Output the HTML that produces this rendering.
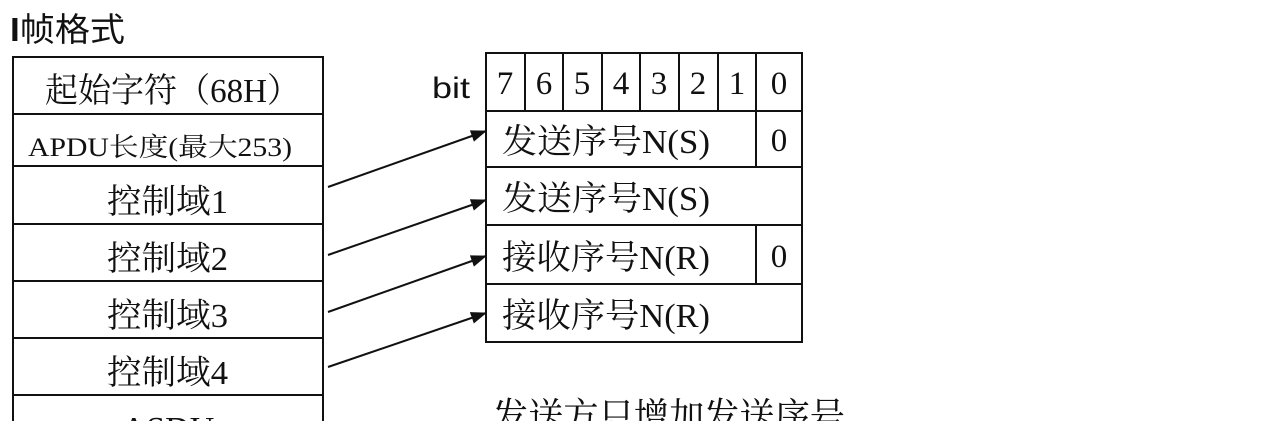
<!DOCTYPE html>
<html><head><meta charset="utf-8"><style>
html,body{margin:0;padding:0;background:#fff;width:1280px;height:421px;overflow:hidden}
svg{display:block}
svg text{font-family:"Liberation Serif","Noto Serif CJK SC",serif;fill:#111}
</style></head><body>
<svg width="1280" height="421" viewBox="0 0 1280 421" xmlns="http://www.w3.org/2000/svg" style="overflow:hidden">
<defs><marker id="a" markerWidth="16" markerHeight="12" refX="15" refY="6" orient="auto" markerUnits="userSpaceOnUse"><path d="M0,0 L16,6 L0,12 Z" fill="#111"/></marker></defs>
<text x="10" y="41" font-size="33" textLength="115" lengthAdjust="spacingAndGlyphs" style="font-family:'Liberation Sans','Noto Sans CJK SC',sans-serif;font-weight:bold">I<tspan font-weight="normal">帧格式</tspan></text>
<g stroke="#111" stroke-width="2" fill="none">
<rect x="13" y="57" width="310" height="380"/>
<line x1="13" y1="114" x2="323" y2="114"/><line x1="13" y1="166" x2="323" y2="166"/>
<line x1="13" y1="224" x2="323" y2="224"/><line x1="13" y1="281" x2="323" y2="281"/>
<line x1="13" y1="338" x2="323" y2="338"/><line x1="13" y1="395" x2="323" y2="395"/>
<rect x="486" y="53" width="316" height="289"/>
<line x1="486" y1="111" x2="802" y2="111"/><line x1="486" y1="167" x2="802" y2="167"/>
<line x1="486" y1="225" x2="802" y2="225"/><line x1="486" y1="284" x2="802" y2="284"/>
<line x1="525" y1="53" x2="525" y2="111"/><line x1="563" y1="53" x2="563" y2="111"/>
<line x1="602" y1="53" x2="602" y2="111"/><line x1="640" y1="53" x2="640" y2="111"/>
<line x1="679" y1="53" x2="679" y2="111"/><line x1="718" y1="53" x2="718" y2="111"/>
<line x1="756" y1="53" x2="756" y2="167"/><line x1="756" y1="225" x2="756" y2="284"/>
</g>
<g stroke="#111" stroke-width="2" marker-end="url(#a)">
<line x1="328" y1="187" x2="486" y2="131"/><line x1="328" y1="255" x2="486" y2="200"/>
<line x1="328" y1="312" x2="486" y2="256"/><line x1="328" y1="367" x2="486" y2="313"/>
</g>
<text x="45" y="102" font-size="34" textLength="255" lengthAdjust="spacingAndGlyphs">起始字符（68H）</text>
<text x="28" y="156" font-size="26" textLength="264" lengthAdjust="spacingAndGlyphs">APDU长度(最大253)</text>
<text x="107" y="213" font-size="34" textLength="121" lengthAdjust="spacingAndGlyphs">控制域1</text>
<text x="107" y="270" font-size="34" textLength="121" lengthAdjust="spacingAndGlyphs">控制域2</text>
<text x="107" y="327" font-size="34" textLength="121" lengthAdjust="spacingAndGlyphs">控制域3</text>
<text x="107" y="384" font-size="34" textLength="121" lengthAdjust="spacingAndGlyphs">控制域4</text>
<text x="168" y="440" font-size="34" text-anchor="middle">ASDU</text>
<text x="432" y="98" font-size="30" textLength="38" lengthAdjust="spacingAndGlyphs" style="font-family:'Liberation Sans',sans-serif">bit</text>
<g font-size="33" text-anchor="middle">
<text x="505" y="94">7</text><text x="544" y="94">6</text><text x="582" y="94">5</text><text x="621" y="94">4</text>
<text x="659" y="94">3</text><text x="698" y="94">2</text><text x="737" y="94">1</text><text x="779" y="94">0</text>
<text x="779" y="151">0</text><text x="779" y="267">0</text>
</g>
<text x="502" y="153" font-size="34" textLength="208" lengthAdjust="spacingAndGlyphs">发送序号N(S)</text>
<text x="502" y="210" font-size="34" textLength="208" lengthAdjust="spacingAndGlyphs">发送序号N(S)</text>
<text x="502" y="269" font-size="34" textLength="208" lengthAdjust="spacingAndGlyphs">接收序号N(R)</text>
<text x="502" y="327" font-size="34" textLength="208" lengthAdjust="spacingAndGlyphs">接收序号N(R)</text>
<text x="493" y="430" font-size="38" textLength="352" lengthAdjust="spacingAndGlyphs">发送方只增加发送序号</text>
</svg>
</body></html>
